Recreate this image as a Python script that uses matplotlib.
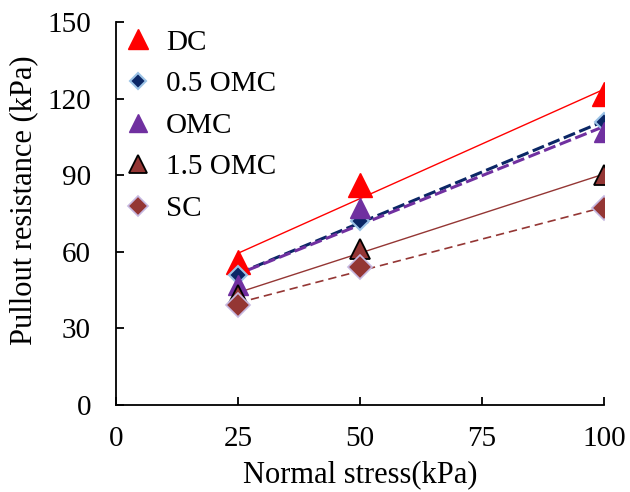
import numpy as np
import matplotlib
matplotlib.use("Agg")
import matplotlib.pyplot as plt

plt.rcParams['font.family'] = ['Liberation Serif', 'DejaVu Serif']

x = [25, 50, 100]
dc = [56, 86, 122]
omc05 = [51, 72, 111]
omc = [47, 77, 107]
omc15 = [43, 61, 90]
sc = [39, 54, 77]
labels = ["DC", "0.5 OMC", "OMC", "1.5 OMC", "SC"]

fig = plt.figure(figsize=(6.3, 4.92), dpi=100)
ax = fig.add_axes([0.184, 0.177, 0.775, 0.778])

styles = [
    (dc, dict(marker='^', color='#ff0000', mec='#ff0000', ms=17), dict(color='#ff0000', lw=1.0, ls='-')),
    (omc05, dict(marker='D', color='#0b2766', mec='#9cc3e6', mew=1.5, ms=9), dict(color='#0b2766', lw=2.2, ls=(0, (4, 1.5)))),
    (omc, dict(marker='^', color='#7030a0', mec='#7030a0', ms=15), dict(color='#7030a0', lw=2.2, ls=(2, (4, 1.5)))),
    (omc15, dict(marker='^', color='#943634', mec='#000000', mew=1.3, ms=15), dict(color='#943634', lw=1.0, ls='-')),
    (sc, dict(marker='D', color='#943634', mec='#c6b8e0', mew=1.2, ms=12), dict(color='#943634', lw=1.2, ls=(0, (5, 3)))),
]

xs = np.array(x, dtype=float)
for (ys, mk, ln), lab in zip(styles, labels):
    k, b = np.polyfit(xs, ys, 1)
    ax.plot(xs[[0, -1]], k * xs[[0, -1]] + b, **ln)
for (ys, mk, ln), lab in zip(styles, labels):
    ax.plot(x, ys, ls='none', label=lab, **mk)

ax.set_xlim(0, 100)
ax.set_ylim(0, 150)
ax.set_xticks([0, 25, 50, 75, 100])
ax.set_yticks([0, 30, 60, 90, 120, 150])
ax.spines['top'].set_visible(False)
ax.spines['right'].set_visible(False)
for s in ['left', 'bottom']:
    ax.spines[s].set_linewidth(1.3)
ax.tick_params(direction='in', length=6, width=1.3, labelsize=21)
ax.tick_params(axis='x', pad=15)
ax.tick_params(axis='y', pad=18)
ax.set_xlabel("Normal stress(kPa)", fontsize=22, labelpad=6)
ax.set_ylabel("Pullout resistance (kPa)", fontsize=22)
ax.yaxis.set_label_coords(-0.16, 0.534)

ax.legend(loc='upper left', bbox_to_anchor=(-0.035, 1.035), frameon=False, fontsize=21,
          handletextpad=0.3, labelspacing=0.52, borderaxespad=0.3, handlelength=1.3,
          markerscale=0.85)

fig.savefig("out.png", dpi=100)
